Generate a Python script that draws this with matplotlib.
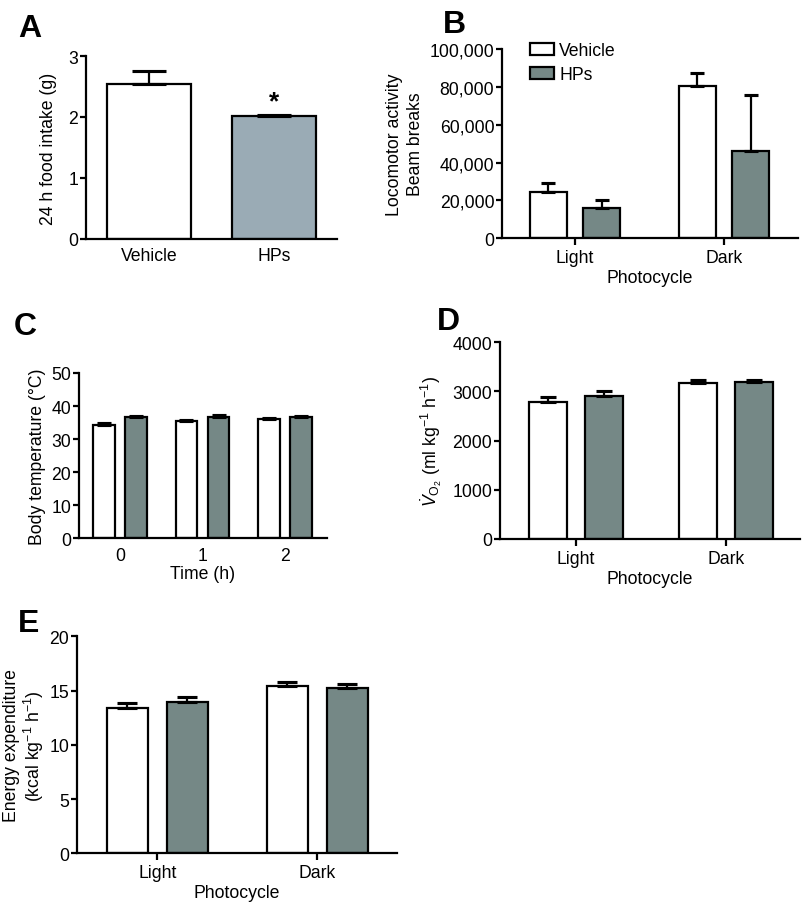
import matplotlib
matplotlib.use("Agg")
import matplotlib.pyplot as plt
import numpy as np
from matplotlib.patches import Patch
from matplotlib.ticker import FuncFormatter

plt.rcParams['font.family'] = ['Liberation Sans', 'DejaVu Sans']
plt.rcParams['mathtext.fontset'] = 'custom'
plt.rcParams['mathtext.rm'] = 'Liberation Sans'
plt.rcParams['mathtext.it'] = 'Liberation Sans:italic'
plt.rcParams['mathtext.bf'] = 'Liberation Sans:bold'

# ---------------- data ----------------
groups_A = ["Vehicle", "HPs"]
food_mean = [2.54, 2.02]
food_sem = [0.21, 0.02]

photo = ["Light", "Dark"]
loco_veh = [24700, 80200]
loco_veh_sem = [4600, 7300]
loco_hps = [16000, 46200]
loco_hps_sem = [4400, 29300]

times = ["0", "1", "2"]
temp_veh = [34.3, 35.6, 36.0]
temp_veh_sem = [0.6, 0.3, 0.4]
temp_hps = [36.7, 36.8, 36.6]
temp_hps_sem = [0.3, 0.4, 0.4]

vo2_veh = [2780, 3172]
vo2_veh_sem = [100, 70]
vo2_hps = [2915, 3186]
vo2_hps_sem = [90, 55]

ee_veh = [13.42, 15.42]
ee_veh_sem = [0.40, 0.34]
ee_hps = [13.97, 15.23]
ee_hps_sem = [0.41, 0.37]

VEH_COLOR = "white"
HPS_COLOR = "#758886"
HPS_A_COLOR = "#9aabb5"
FS = 12.7
LW = 1.6

fig = plt.figure(figsize=(8.04, 9.03), dpi=100)
W, H = 804.0, 903.0

def make_ax(left, right, bottom, top):
    ax = fig.add_axes([left / W, 1 - bottom / H, (right - left) / W, (bottom - top) / H])
    for s in ["top", "right"]:
        ax.spines[s].set_visible(False)
    for s in ["left", "bottom"]:
        ax.spines[s].set_linewidth(LW)
    ax.tick_params(axis="y", direction="out", length=4, width=LW, labelsize=FS, pad=1.5)
    ax.tick_params(axis="x", direction="out", length=5, width=LW, labelsize=FS, pad=3)
    return ax

def bars(ax, x, vals, sems, color, width, capsize):
    ax.bar(x, vals, width=width, color=color, edgecolor="black", linewidth=LW, zorder=2)
    ax.errorbar(x, vals, yerr=[np.zeros(len(vals)), sems], fmt="none", ecolor="black",
                elinewidth=LW, capsize=capsize, capthick=LW * 1.4, zorder=3)

def letter(x, y, s):
    fig.text(x / W, 1 - y / H, s, fontsize=23, fontweight="bold", va="top", ha="left")

# ---------------- A ----------------
axA = make_ax(86, 337, 240, 57)
xa = np.arange(len(groups_A))
axA.bar(xa[0], food_mean[0], width=0.67, color=VEH_COLOR, edgecolor="black", linewidth=LW, zorder=2)
axA.bar(xa[1], food_mean[1], width=0.67, color=HPS_A_COLOR, edgecolor="black", linewidth=LW, zorder=2)
axA.errorbar(xa, food_mean, yerr=[np.zeros(2), food_sem], fmt="none", ecolor="black",
             elinewidth=LW, capsize=12, capthick=LW * 1.4, zorder=3)
axA.set_xlim(-0.504, 1.504)
axA.set_ylim(0, 3)
axA.set_yticks([0, 1, 2, 3])
axA.set_xticks(xa)
axA.set_xticklabels(groups_A)
axA.tick_params(axis="x", length=0, pad=6)
axA.set_ylabel("24 h food intake (g)", fontsize=FS, labelpad=8)
axA.annotate("*", xy=(xa[1], food_mean[1] + food_sem[1]), xytext=(0, 1),
             textcoords="offset points", ha="center", va="bottom", fontsize=19, fontweight="bold")
letter(18, 14, "A")

# ---------------- B ----------------
axB = make_ax(502, 798, 239.3, 50)
xb = np.arange(len(photo))
bars(axB, xb - 0.18, loco_veh, loco_veh_sem, VEH_COLOR, 0.248, 5)
bars(axB, xb + 0.18, loco_hps, loco_hps_sem, HPS_COLOR, 0.248, 5)
axB.set_xlim(-0.49, 1.497)
axB.set_ylim(0, 100000)
axB.set_yticks(np.arange(0, 100001, 20000))
axB.yaxis.set_major_formatter(FuncFormatter(lambda v, p: f"{int(v):,}"))
axB.set_xticks(xb)
axB.set_xticklabels(photo)
axB.set_xlabel("Photocycle", fontsize=FS, labelpad=2)
axB.set_ylabel("Locomotor activity\nBeam breaks", fontsize=FS, labelpad=4, linespacing=1.3)
axB.legend(handles=[Patch(facecolor=VEH_COLOR, edgecolor="black", linewidth=LW, label="Vehicle"),
                    Patch(facecolor=HPS_COLOR, edgecolor="black", linewidth=LW, label="HPs")],
           loc="upper left", bbox_to_anchor=(530 / W, 1 - 43 / H), bbox_transform=fig.transFigure,
           frameon=False, fontsize=FS, borderpad=0, borderaxespad=0, handlelength=1.35,
           handleheight=0.7, handletextpad=0.3, labelspacing=0.4)
letter(443, 10, "B")

# ---------------- C ----------------
axC = make_ax(79, 327, 539.3, 374)
xc = np.arange(len(times))
bars(axC, xc - 0.194, temp_veh, temp_veh_sem, VEH_COLOR, 0.255, 5)
bars(axC, xc + 0.194, temp_hps, temp_hps_sem, HPS_COLOR, 0.255, 5)
axC.set_xlim(-0.497, 2.509)
axC.set_ylim(0, 50)
axC.set_yticks(np.arange(0, 51, 10))
axC.set_xticks(xc)
axC.set_xticklabels(times)
axC.tick_params(axis="x", length=0, pad=6)
axC.set_xlabel("Time (h)", fontsize=FS, labelpad=1)
axC.set_ylabel("Body temperature (°C)", fontsize=FS, labelpad=4)
letter(14, 312, "C")

# ---------------- D ----------------
axD = make_ax(500, 800, 540, 343.3)
xd = np.arange(len(photo))
bars(axD, xd - 0.187, vo2_veh, vo2_veh_sem, VEH_COLOR, 0.253, 6)
bars(axD, xd + 0.187, vo2_hps, vo2_hps_sem, HPS_COLOR, 0.253, 6)
axD.set_xlim(-0.507, 1.493)
axD.set_ylim(0, 4000)
axD.set_yticks(np.arange(0, 4001, 1000))
axD.set_xticks(xd)
axD.set_xticklabels(photo)
axD.set_xlabel("Photocycle", fontsize=FS, labelpad=2)
axD.set_ylabel(r"$\dot{V}_{\mathrm{O_2}}$ (ml kg$^{-1}$ h$^{-1}$)", fontsize=FS, labelpad=6)
letter(437, 307, "D")

# ---------------- E ----------------
axE = make_ax(77, 397, 854.3, 637.3)
xe = np.arange(len(photo))
bars(axE, xe - 0.1875, ee_veh, ee_veh_sem, VEH_COLOR, 0.256, 7)
bars(axE, xe + 0.1875, ee_hps, ee_hps_sem, HPS_COLOR, 0.256, 7)
axE.set_xlim(-0.503, 1.497)
axE.set_ylim(0, 20)
axE.set_yticks(np.arange(0, 21, 5))
axE.set_xticks(xe)
axE.set_xticklabels(photo)
axE.set_xlabel("Photocycle", fontsize=FS, labelpad=2)
axE.set_ylabel("Energy expenditure\n(kcal kg$^{-1}$ h$^{-1}$)", fontsize=FS, linespacing=1.1)
axE.yaxis.set_label_coords(-0.097, 0.5)
letter(18, 609, "E")

fig.savefig("out.png", dpi=100)
